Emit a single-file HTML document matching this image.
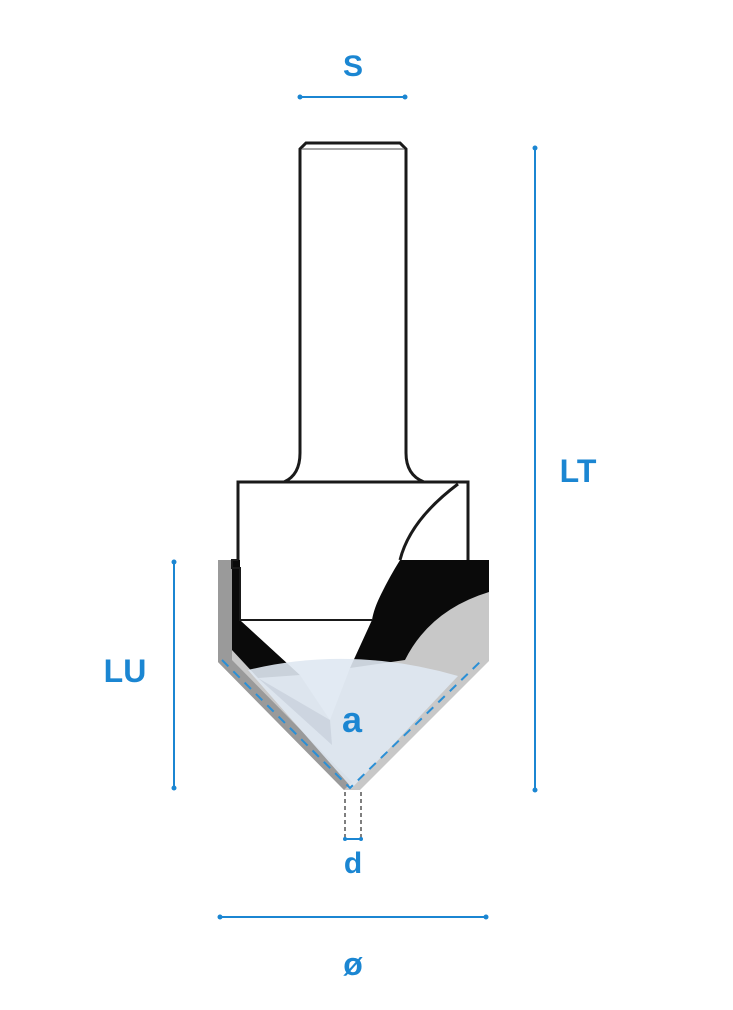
<!DOCTYPE html>
<html><head><style>
html,body{margin:0;padding:0;background:#fff;}
svg{display:block}
text{font-family:"Liberation Sans",sans-serif;font-weight:bold;fill:#1b86d2}
</style></head><body>
<svg width="733" height="1010" viewBox="0 0 733 1010">
<!-- gray outer -->
<path d="M218 560 L489 560 L489 661 L360 790 L344 790 L218 662 Z" fill="#c8c8c8"/>
<path d="M218 560 L232 560 L232 660 L352 782 L344 790 L218 662 Z" fill="#9a9a9a"/>
<!-- black band -->
<path d="M400 560 L489 560 L489 592 Q430 610 405 660 L350 668 Q375 600 400 560 Z" fill="#0a0a0a"/>
<path d="M232 560 L240 560 L240 620 L300 675 L258 678 L232 650 Z" fill="#0a0a0a"/>
<!-- white inner -->
<path d="M240 620 L372 620 L350 668 L330 720 L300 675 Z" fill="#fff"/>
<path d="M238 482 L468 482 L468 560 L400 560 Q375 600 372 620 L240 620 L240 560 L238 560 Z" fill="#fff"/>
<!-- light fan -->
<path d="M248 670 Q350 645 458 676 L352 788 Z" fill="#dfe8f2" opacity="0.9"/>
<path d="M258 678 L330 720 L332 745 Z" fill="#c6cfda" opacity="0.7"/>
<!-- dashed edge -->
<path d="M222 660 L350 788 L482 660" fill="none" stroke="#2a8fd6" stroke-width="2" stroke-dasharray="9,7"/>
<!-- body outline -->
<path d="M238 560 L238 482 L468 482 L468 560" fill="none" stroke="#1a1a1a" stroke-width="3"/>
<path d="M238 560 L232 560 L232 568 L240 568 L240 620 L372 620" fill="none" stroke="#1a1a1a" stroke-width="2"/>
<path d="M458 484 Q410 520 400 560" fill="none" stroke="#1a1a1a" stroke-width="3"/>
<!-- shank -->
<path d="M284 482 Q300 475 300 453 L300 149 L306 143 L400 143 L406 149 L406 453 Q406 475 424 482" fill="none" stroke="#1a1a1a" stroke-width="3"/>
<line x1="302" y1="149" x2="404" y2="149" stroke="#888" stroke-width="1.5"/>
<!-- S -->
<line x1="300" y1="97" x2="405" y2="97" stroke="#1b86d2" stroke-width="2"/>
<circle cx="300" cy="97" r="2.5" fill="#1b86d2"/><circle cx="405" cy="97" r="2.5" fill="#1b86d2"/>
<text x="353" y="76" font-size="30" text-anchor="middle">S</text>
<!-- LT -->
<line x1="535" y1="148" x2="535" y2="790" stroke="#1b86d2" stroke-width="2"/>
<circle cx="535" cy="148" r="2.5" fill="#1b86d2"/><circle cx="535" cy="790" r="2.5" fill="#1b86d2"/>
<text x="578" y="482" font-size="32" text-anchor="middle">LT</text>
<!-- LU -->
<line x1="174" y1="562" x2="174" y2="788" stroke="#1b86d2" stroke-width="2"/>
<circle cx="174" cy="562" r="2.5" fill="#1b86d2"/><circle cx="174" cy="788" r="2.5" fill="#1b86d2"/>
<text x="125" y="682" font-size="32" text-anchor="middle">LU</text>
<!-- a -->
<text x="352" y="732" font-size="36" text-anchor="middle">a</text>
<!-- d -->
<line x1="345" y1="792" x2="345" y2="838" stroke="#555" stroke-width="1.5" stroke-dasharray="4,3"/>
<line x1="361" y1="792" x2="361" y2="838" stroke="#555" stroke-width="1.5" stroke-dasharray="4,3"/>
<line x1="345" y1="839" x2="361" y2="839" stroke="#1b86d2" stroke-width="2"/>
<circle cx="345" cy="839" r="2" fill="#1b86d2"/><circle cx="361" cy="839" r="2" fill="#1b86d2"/>
<text x="353" y="873" font-size="30" text-anchor="middle">d</text>
<!-- diameter -->
<line x1="220" y1="917" x2="486" y2="917" stroke="#1b86d2" stroke-width="2"/>
<circle cx="220" cy="917" r="2.5" fill="#1b86d2"/><circle cx="486" cy="917" r="2.5" fill="#1b86d2"/>
<text x="353" y="975" font-size="32" text-anchor="middle">ø</text>
</svg>
</body></html>
